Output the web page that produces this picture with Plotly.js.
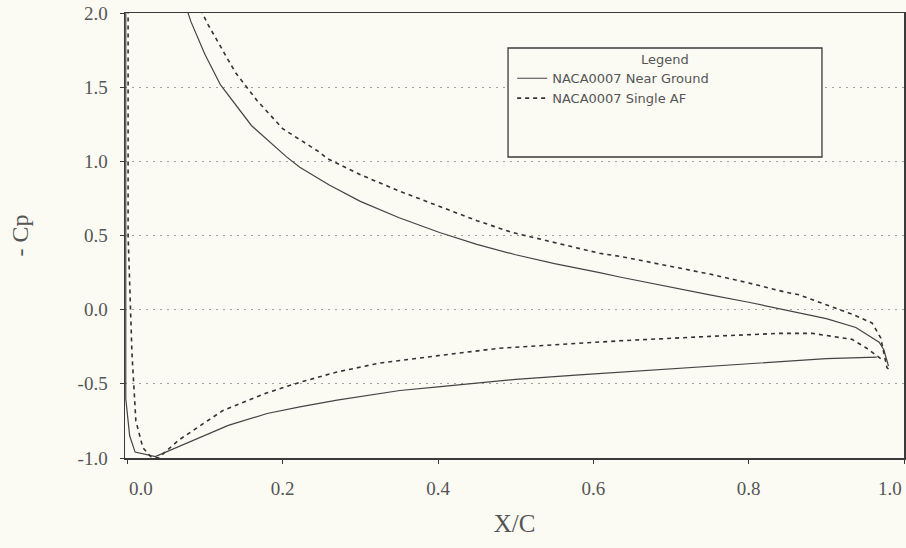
<!DOCTYPE html>
<html>
<head>
<meta charset="utf-8">
<script src="https://cdn.plot.ly/plotly-3.0.1.min.js"></script>
<style>
html,body{margin:0;padding:0;background:#fbfbf4;}
#chart{width:906px;height:548px;}
</style>
</head>
<body>
<div id="chart"></div>
<script>
// Near Ground (solid): upper surface TE -> LE, leading edge, lower surface LE -> TE
var ngX = [0.980, 0.974, 0.968, 0.938, 0.900, 0.865, 0.839, 0.800, 0.750, 0.700, 0.634, 0.608, 0.550, 0.500, 0.450, 0.402, 0.350, 0.300, 0.260, 0.222, 0.205, 0.160, 0.120, 0.100, 0.082, 0.075,
           0.040, -0.002, -0.002, 0.003, 0.010, 0.036,
           0.085, 0.130, 0.180, 0.222, 0.270, 0.325, 0.351, 0.400, 0.450, 0.500, 0.582, 0.700, 0.780, 0.839, 0.900, 0.965];
var ngY = [-0.38, -0.27, -0.22, -0.12, -0.06, -0.02, 0.01, 0.05, 0.10, 0.15, 0.22, 0.25, 0.31, 0.37, 0.44, 0.52, 0.62, 0.73, 0.84, 0.96, 1.03, 1.24, 1.515, 1.72, 1.94, 2.05,
           3.00, 3.00, -0.60, -0.85, -0.96, -0.99,
           -0.88, -0.78, -0.70, -0.655, -0.61, -0.565, -0.545, -0.52, -0.495, -0.47, -0.44, -0.40, -0.37, -0.35, -0.33, -0.32];

// Single AF (dashed)
var afX = [0.980, 0.978, 0.970, 0.959, 0.933, 0.907, 0.865, 0.846, 0.800, 0.750, 0.700, 0.634, 0.608, 0.550, 0.496, 0.450, 0.394, 0.350, 0.300, 0.257, 0.248, 0.200, 0.167, 0.139, 0.103, 0.092,
           0.050, 0.001, 0.001, 0.006, 0.011, 0.020, 0.030, 0.040,
           0.066, 0.123, 0.180, 0.222, 0.270, 0.325, 0.400, 0.479, 0.540, 0.634, 0.750, 0.839, 0.882, 0.933, 0.952, 0.970];
var afY = [-0.40, -0.39, -0.19, -0.09, -0.03, 0.02, 0.10, 0.12, 0.18, 0.24, 0.29, 0.36, 0.38, 0.45, 0.52, 0.60, 0.71, 0.80, 0.91, 1.02, 1.06, 1.22, 1.41, 1.60, 1.93, 2.05,
           3.00, 3.00, 0.50, -0.30, -0.75, -0.93, -0.99, -1.00,
           -0.88, -0.68, -0.56, -0.49, -0.42, -0.36, -0.31, -0.26, -0.24, -0.21, -0.18, -0.16, -0.16, -0.20, -0.26, -0.33];

var seriesNames = ["NACA0007 Near Ground", "NACA0007 Single AF"];
var xTicks = [0.0, 0.2, 0.4, 0.6, 0.8, 1.0];
var xTickText = ["0.0", "0.2", "0.4", "0.6", "0.8", "1.0"];
var yTicks = [-1.0, -0.5, 0.0, 0.5, 1.0, 1.5, 2.0];
var yTickText = ["-1.0", "-0.5", "0.0", "0.5", "1.0", "1.5", "2.0"];
var legendTitle = "Legend";

var bg = "#fbfbf4";
var ink = "#3a3a3a";
var font = "Liberation Serif, serif";
var sans = "DejaVu Sans, sans-serif";

var traces = [
  {x: ngX, y: ngY, mode: "lines", name: seriesNames[0],
   line: {color: "#444", width: 1.2}},
  {x: afX, y: afY, mode: "lines", name: seriesNames[1],
   line: {color: "#333", width: 1.6, dash: "4px,4px"}}
];

// inner tick labels drawn by the axis; the two end labels are drawn as
// annotations anchored to the tick value so they sit inside the frame
var axisTickText = xTickText.map(function (t, i) {
  return (i === 0 || i === xTickText.length - 1) ? "" : t;
});
var tickFont = {family: font, size: 19, color: "#555"};
var endLabels = [
  {x: xTicks[0], text: xTickText[0], xanchor: "left"},
  {x: xTicks[xTicks.length - 1], text: xTickText[xTickText.length - 1], xanchor: "right"}
].map(function (e) {
  return {xref: "x", yref: "paper", x: e.x, y: 0, yanchor: "top", xanchor: e.xanchor,
          yshift: -18, text: e.text, showarrow: false, font: tickFont};
});

var layout = {
  width: 906, height: 548,
  paper_bgcolor: bg, plot_bgcolor: bg,
  margin: {l: 125, r: 2, t: 13, b: 90},
  font: {family: font, color: "#555", size: 17},
  showlegend: true,
  legend: {
    x: 0.497, y: 0.887, xanchor: "left", yanchor: "top",
    bgcolor: "rgba(0,0,0,0)", borderwidth: 0,
    font: {family: sans, size: 13, color: "#555"},
    tracegroupgap: 0
  },
  xaxis: {
    range: [-0.003, 1.0],
    tickmode: "array", tickvals: xTicks, ticktext: axisTickText,
    showgrid: false, zeroline: false,
    showline: true, linecolor: ink, linewidth: 1.5, mirror: true,
    ticks: "outside", ticklen: 4, tickcolor: ink,
    ticklabelstandoff: 9,
    tickfont: tickFont,
    title: {text: "X/C", font: {family: font, size: 25, color: "#555"}, standoff: 16}
  },
  yaxis: {
    range: [-1.0, 2.0],
    tickmode: "array", tickvals: yTicks, ticktext: yTickText,
    showgrid: true, gridcolor: "#a0a0a0", gridwidth: 1, griddash: "2px,5px",
    zeroline: false,
    showline: true, linecolor: ink, linewidth: 1.5, mirror: true,
    ticks: "outside", ticklen: 4, tickcolor: ink,
    ticklabelstandoff: 8,
    tickfont: tickFont,
    title: {text: "- Cp", font: {family: font, size: 24, color: "#555"}, standoff: 42}
  },
  shapes: [
    {type: "rect", xref: "paper", yref: "paper", layer: "above",
     x0: 0.4917, x1: 0.8947, y0: 0.6764, y1: 0.9213,
     fillcolor: bg, line: {color: ink, width: 1.3}}
  ],
  annotations: [
    {xref: "paper", yref: "paper", x: 0.693, y: 0.896, yanchor: "middle", xanchor: "center",
     text: legendTitle, showarrow: false, font: {family: sans, size: 13, color: "#555"}}
  ].concat(endLabels)
};

Plotly.newPlot("chart", traces, layout, {displayModeBar: false, staticPlot: true});
</script>
</body>
</html>
